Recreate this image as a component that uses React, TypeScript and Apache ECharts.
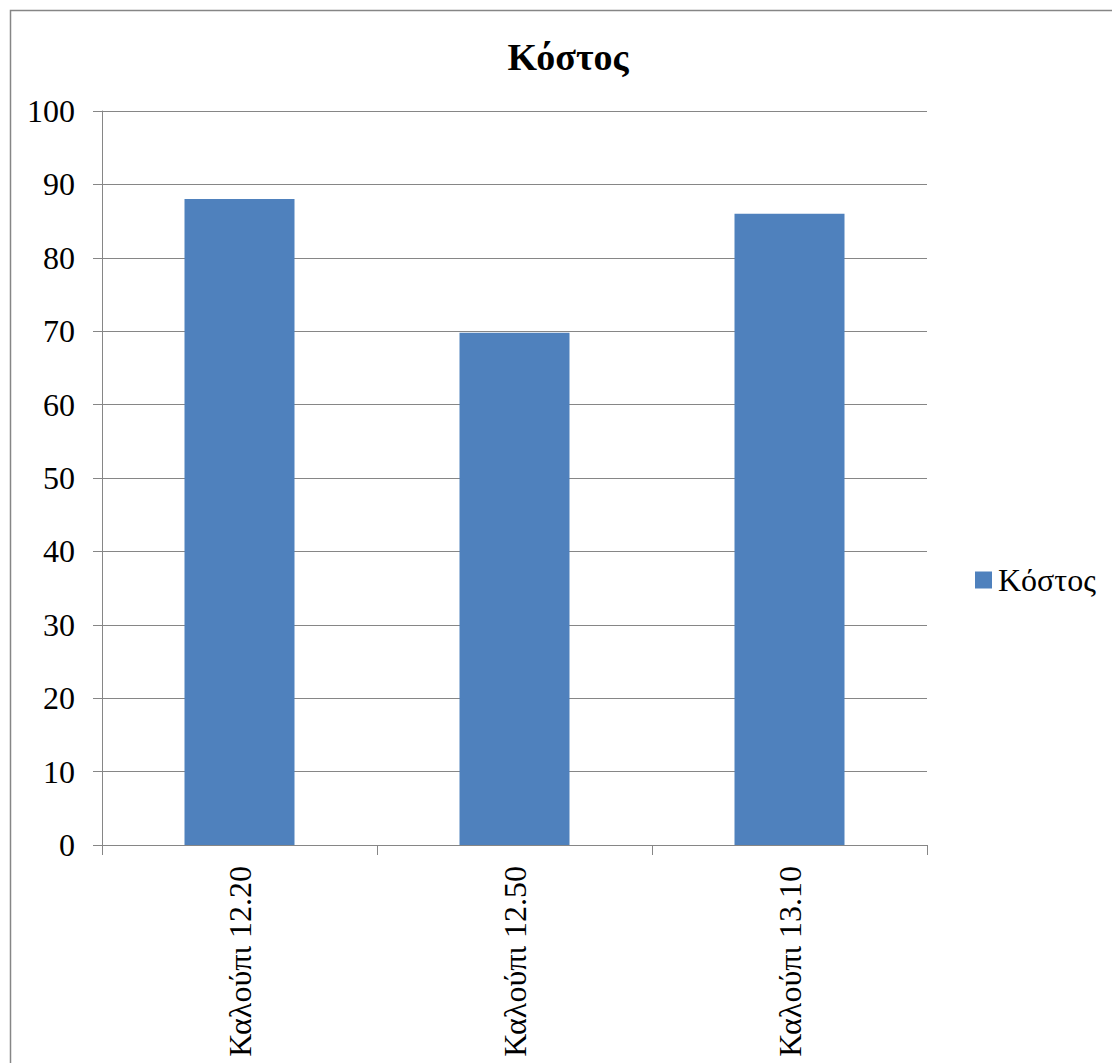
import React, { useEffect, useRef } from "react";
import * as echarts from "echarts";

const categories = ["Καλούπι 12.20", "Καλούπι 12.50", "Καλούπι 13.10"];
const costValues = [88, 69.8, 86];
const seriesName = "Κόστος";
const chartTitle = "Κόστος";
const yMin = 0;
const yMax = 100;
const yStep = 10;

const FONT = "Liberation Serif, serif";
const GRAY = "#868686";

export default function App() {
  const ref = useRef<HTMLDivElement>(null);
  useEffect(() => {
    if (!ref.current) return;
    const chart = echarts.init(ref.current, null, { renderer: "svg" });
    chart.setOption({
      animation: false,
      backgroundColor: "#ffffff",
      title: {
        text: chartTitle,
        left: 563,
        textAlign: "center",
        top: 33,
        textStyle: { fontFamily: FONT, fontSize: 38, fontWeight: "bold", color: "#000" },
      },
      legend: {
        data: [seriesName],
        left: 970,
        top: 559,
        icon: "rect",
        itemWidth: 17,
        itemHeight: 17,
        textStyle: { fontFamily: FONT, fontSize: 32, color: "#000", padding: [0, 0, 0, 1] },
      },
      graphic: [
        {
          type: "rect",
          shape: { x: 10.5, y: 10.5, width: 1200, height: 1200 },
          style: { fill: "none", stroke: GRAY, lineWidth: 1.5 },
          silent: true,
          z: -1,
        },
      ],
      grid: {
        left: 102,
        right: 185,
        top: 111,
        bottom: 218,
        outerBoundsMode: "none",
        containLabel: false,
      },
      xAxis: {
        type: "category",
        data: categories,
        axisLine: { show: true, lineStyle: { color: GRAY, width: 1 } },
        axisTick: { show: true, length: 10, alignWithLabel: false, lineStyle: { color: GRAY } },
        axisLabel: {
          rotate: 90,
          margin: 21,
          fontFamily: FONT,
          fontSize: 32,
          color: "#000",
          interval: 0,
        },
        splitLine: { show: false },
      },
      yAxis: {
        type: "value",
        min: yMin,
        max: yMax,
        interval: yStep,
        axisLine: { show: true, lineStyle: { color: GRAY, width: 1 } },
        axisTick: { show: true, length: 9, lineStyle: { color: GRAY } },
        axisLabel: { margin: 27, fontFamily: FONT, fontSize: 32, color: "#000" },
        splitLine: { show: true, lineStyle: { color: GRAY, width: 1 } },
      },
      series: [
        {
          name: seriesName,
          type: "bar",
          data: costValues,
          barWidth: "40%",
          itemStyle: { color: "#4F81BD" },
        },
      ],
    });
    return () => chart.dispose();
  }, []);
  return (
    <div
      ref={ref}
      style={{ position: "fixed", left: 0, top: 0, width: 1112, height: 1063 }}
    />
  );
}
